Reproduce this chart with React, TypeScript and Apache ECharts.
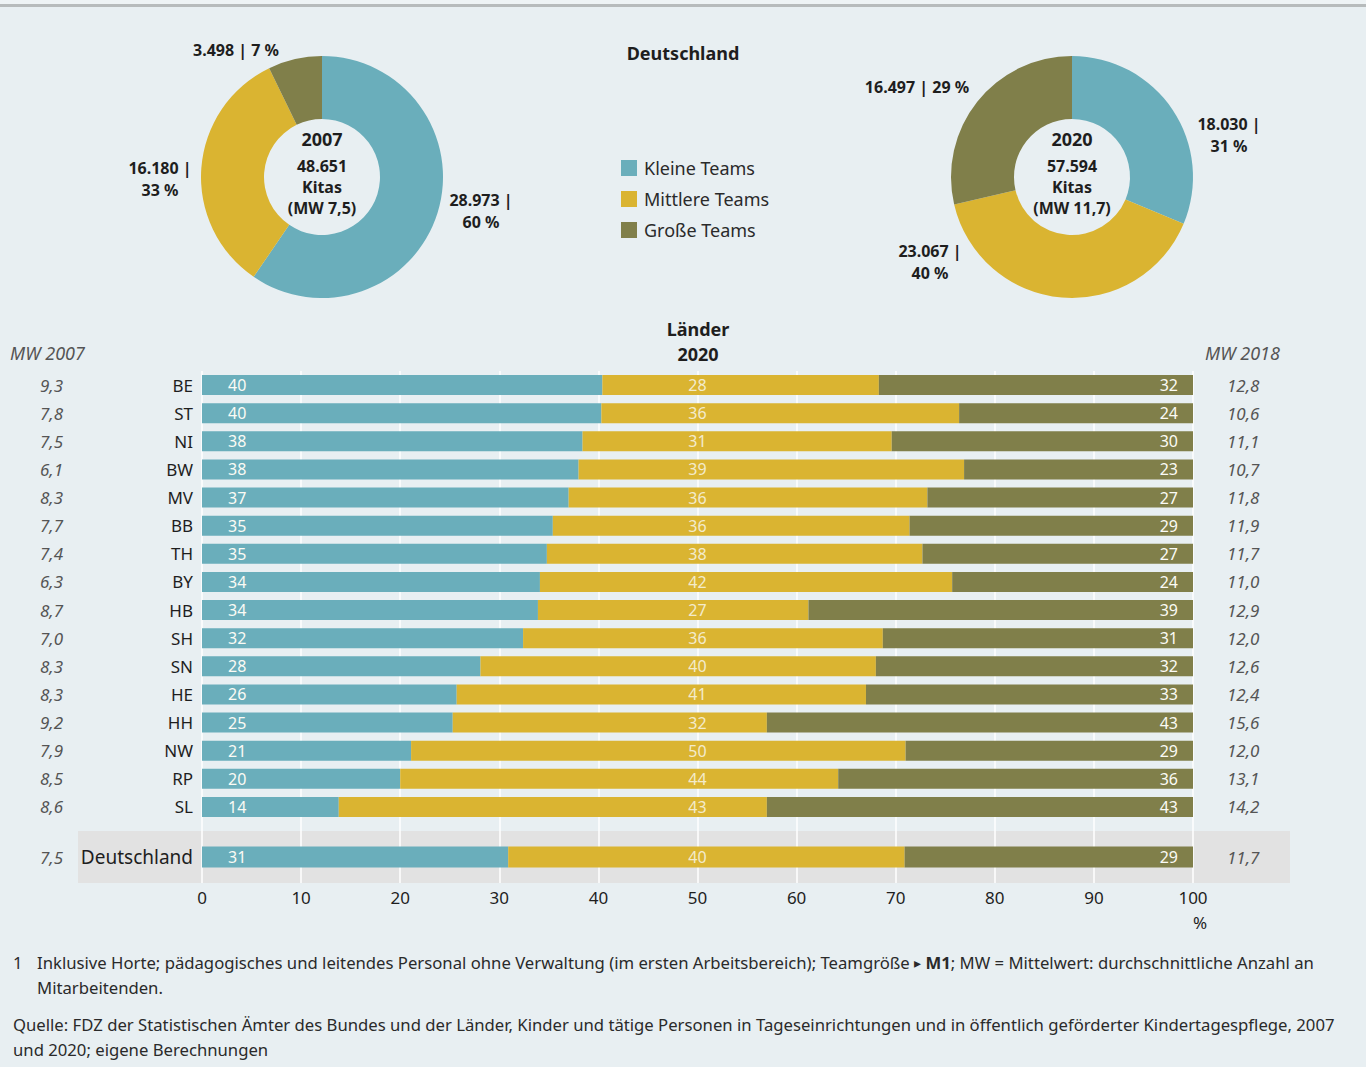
import React, { useEffect, useRef } from "react";
import * as echarts from "echarts";

// ---------- data ----------
const landCodes = ["BE", "ST", "NI", "BW", "MV", "BB", "TH", "BY", "HB", "SH", "SN", "HE", "HH", "NW", "RP", "SL"];
const kleine = [40.4, 40.3, 38.4, 38.0, 37.0, 35.4, 34.8, 34.1, 33.9, 32.4, 28.1, 25.7, 25.3, 21.1, 20.0, 13.8];
const mittlere = [27.9, 36.1, 31.2, 38.9, 36.2, 36.0, 37.9, 41.6, 27.3, 36.3, 39.9, 41.3, 31.7, 49.9, 44.2, 43.2];
const grosse = [31.7, 23.6, 30.4, 23.1, 26.8, 28.6, 27.3, 24.3, 38.8, 31.3, 32.0, 33.0, 43.0, 29.0, 35.8, 43.0];
const mw2007 = [9.3, 7.8, 7.5, 6.1, 8.3, 7.7, 7.4, 6.3, 8.7, 7.0, 8.3, 8.3, 9.2, 7.9, 8.5, 8.6];
const mw2018 = [12.8, 10.6, 11.1, 10.7, 11.8, 11.9, 11.7, 11.0, 12.9, 12.0, 12.6, 12.4, 15.6, 12.0, 13.1, 14.2];

const deName = ["Deutschland"];
const deKleine = [30.9];
const deMittlere = [40.0];
const deGrosse = [29.1];
const deMw2007 = [7.5];
const deMw2018 = [11.7];

const teamNames = ["Kleine Teams", "Mittlere Teams", "Große Teams"];
const kitas2007 = [28973, 16180, 3498];
const kitas2020 = [18030, 23067, 16497];
const pieYears = ["2007", "2020"];
const pieMw = [7.5, 11.7];

const xTicks = [0, 100, 10]; // min, max, interval

const footnote1 = "Inklusive Horte; pädagogisches und leitendes Personal ohne Verwaltung (im ersten Arbeitsbereich); Teamgröße {tri|▸} {b|M1}; MW = Mittelwert: durchschnittliche Anzahl an";
const footnote1b = "Mitarbeitenden.";
const source1 = "Quelle: FDZ der Statistischen Ämter des Bundes und der Länder, Kinder und tätige Personen in Tageseinrichtungen und in öffentlich geförderter Kindertagespflege, 2007";
const source2 = "und 2020; eigene Berechnungen";

// ---------- style ----------
const FONT = "Noto Sans";
const C_BLUE = "#6aaebb";
const C_YEL = "#dab431";
const C_OLV = "#807f4a";
const C_BG = "#e8eff2";
const C_TXT = "#1e1e1e";
const C_NOTE = "#2a2a2a";
const NOTE_SIZE = 16.7;
const colors = [C_BLUE, C_YEL, C_OLV];

const fmtThousand = (n: number) => String(n).replace(/\B(?=(\d{3})+(?!\d))/g, ".");
const fmtDec = (n: number) => n.toFixed(1).replace(".", ",");
const sum = (a: number[]) => a.reduce((s, v) => s + v, 0);

export default function App() {
  const ref = useRef<HTMLDivElement>(null);

  useEffect(() => {
    if (!ref.current) return;
    const chart = echarts.init(ref.current, undefined, { renderer: "svg" });

    const barLabelBase = { color: "#fbfbf5", fontSize: 16, fontFamily: FONT };

    const pieLabelPos: Record<string, { x: number; y: number }[]> = {
      p0: [
        { x: 481, y: 211 },
        { x: 160, y: 179 },
        { x: 236, y: 50 },
      ],
      p1: [
        { x: 1229, y: 135 },
        { x: 930, y: 262 },
        { x: 917, y: 87 },
      ],
    };

    const makePie = (id: string, cx: number, vals: number[]) => ({
      type: "pie",
      id,
      center: [cx, 177],
      radius: [58, 121],
      startAngle: 90,
      clockwise: true,
      silent: true,
      data: vals.map((v, i) => ({ name: teamNames[i], value: v, itemStyle: { color: colors[i] } })),
      label: {
        show: true,
        position: "outside",
        fontFamily: FONT,
        fontSize: 16,
        fontWeight: "bold",
        color: C_TXT,
        lineHeight: 22,
        align: "center",
        formatter: (p: any) => {
          const n = fmtThousand(p.value);
          const pc = Math.round(p.percent);
          return p.dataIndex === 2 ? `${n} | ${pc} %` : `${n} |\n${pc} %`;
        },
      },
      labelLine: { show: false },
      labelLayout: (params: any) => {
        const pos = pieLabelPos[id][params.dataIndex];
        return { x: pos.x, y: pos.y, align: "center", verticalAlign: "middle" };
      },
    });

    const centerText = (cx: number, k: number, vals: number[]) => [
      {
        type: "text",
        x: cx,
        y: 139,
        style: { text: pieYears[k], textAlign: "center", textVerticalAlign: "middle", fontFamily: FONT, fontSize: 18, fontWeight: "bold", fill: C_TXT },
      },
      {
        type: "text",
        x: cx,
        y: 187,
        style: {
          text: `${fmtThousand(sum(vals))}\nKitas\n(MW ${fmtDec(pieMw[k])})`,
          textAlign: "center",
          textVerticalAlign: "middle",
          fontFamily: FONT,
          fontSize: 16,
          fontWeight: "bold",
          lineHeight: 21,
          fill: C_TXT,
        },
      },
    ];

    const gridCommon = { left: 202, width: 991, outerBoundsMode: "none", containLabel: false };
    const mwLabel = { fontFamily: FONT, fontSize: 17, fontStyle: "italic", color: "#555555", margin: 0 };
    const noLine = { axisLine: { show: false }, axisTick: { show: false } };

    const noteText = (x: number, y: number, text: string, extra: any = {}) => ({
      type: "text",
      x,
      y,
      style: { text, textAlign: "left", textVerticalAlign: "middle", fontFamily: FONT, fontSize: NOTE_SIZE, fill: C_NOTE, ...extra },
    });

    const option: any = {
      animation: false,
      backgroundColor: C_BG,
      textStyle: { fontFamily: FONT },
      legend: {
        orient: "vertical",
        left: 616,
        top: 154,
        itemWidth: 16,
        itemHeight: 16,
        itemGap: 13,
        icon: "rect",
        selectedMode: false,
        data: teamNames,
        textStyle: { fontFamily: FONT, fontSize: 18, color: "#2a2a2a", padding: [0, 0, 0, 2] },
      },
      grid: [
        { ...gridCommon, top: 371, height: 512 },
        { ...gridCommon, top: 371, height: 450 },
        { ...gridCommon, top: 831, height: 52 },
      ],
      xAxis: [
        {
          gridIndex: 0,
          type: "value",
          min: xTicks[0],
          max: xTicks[1],
          interval: xTicks[2],
          ...noLine,
          splitLine: { show: true, lineStyle: { color: "#ffffff", width: 1.5 } },
          axisLabel: { fontFamily: FONT, fontSize: 17, color: C_TXT, margin: 6 },
        },
        { gridIndex: 1, type: "value", min: xTicks[0], max: xTicks[1], show: false },
        { gridIndex: 2, type: "value", min: xTicks[0], max: xTicks[1], show: false },
      ],
      yAxis: [
        { gridIndex: 0, type: "category", data: [""], show: false },
        {
          gridIndex: 1,
          type: "category",
          data: landCodes,
          inverse: true,
          ...noLine,
          axisLabel: { fontFamily: FONT, fontSize: 17, color: C_TXT, margin: 9 },
        },
        {
          gridIndex: 1,
          type: "category",
          data: landCodes,
          inverse: true,
          position: "left",
          offset: 139,
          ...noLine,
          axisLabel: { ...mwLabel, formatter: (_v: string, i: number) => fmtDec(mw2007[i]) },
        },
        {
          gridIndex: 1,
          type: "category",
          data: landCodes,
          inverse: true,
          position: "right",
          offset: 34,
          ...noLine,
          axisLabel: { ...mwLabel, formatter: (_v: string, i: number) => fmtDec(mw2018[i]) },
        },
        {
          gridIndex: 2,
          type: "category",
          data: deName,
          ...noLine,
          axisLabel: { fontFamily: FONT, fontSize: 19, color: C_TXT, margin: 9 },
        },
        {
          gridIndex: 2,
          type: "category",
          data: deName,
          position: "left",
          offset: 139,
          ...noLine,
          axisLabel: { ...mwLabel, formatter: (_v: string, i: number) => fmtDec(deMw2007[i]) },
        },
        {
          gridIndex: 2,
          type: "category",
          data: deName,
          position: "right",
          offset: 34,
          ...noLine,
          axisLabel: { ...mwLabel, formatter: (_v: string, i: number) => fmtDec(deMw2018[i]) },
        },
      ],
      series: [
        makePie("p0", 322, kitas2007),
        makePie("p1", 1072, kitas2020),
        // Länder bars
        {
          type: "bar",
          name: teamNames[0],
          xAxisIndex: 1,
          yAxisIndex: 1,
          stack: "l",
          barWidth: 20,
          data: kleine,
          itemStyle: { color: C_BLUE },
          label: { show: true, position: "insideLeft", distance: 26, ...barLabelBase, formatter: (p: any) => String(Math.round(p.value)) },
        },
        {
          type: "bar",
          name: teamNames[1],
          xAxisIndex: 1,
          yAxisIndex: 1,
          stack: "l",
          barWidth: 20,
          data: mittlere,
          itemStyle: { color: C_YEL },
        },
        {
          type: "bar",
          name: teamNames[2],
          xAxisIndex: 1,
          yAxisIndex: 1,
          stack: "l",
          barWidth: 20,
          data: grosse,
          itemStyle: { color: C_OLV },
          label: { show: true, position: "insideRight", distance: 15, ...barLabelBase, formatter: (p: any) => String(Math.round(p.value)) },
        },
        {
          type: "scatter",
          xAxisIndex: 1,
          yAxisIndex: 1,
          symbolSize: 0,
          silent: true,
          data: mittlere.map((_v, i) => [50, i]),
          label: { show: true, position: "inside", ...barLabelBase, formatter: (p: any) => String(Math.round(mittlere[p.dataIndex])) },
        },
        // Deutschland bars
        {
          type: "bar",
          name: teamNames[0],
          xAxisIndex: 2,
          yAxisIndex: 4,
          stack: "d",
          barWidth: 21,
          data: deKleine,
          itemStyle: { color: C_BLUE },
          label: { show: true, position: "insideLeft", distance: 26, ...barLabelBase, formatter: (p: any) => String(Math.round(p.value)) },
        },
        {
          type: "bar",
          name: teamNames[1],
          xAxisIndex: 2,
          yAxisIndex: 4,
          stack: "d",
          barWidth: 21,
          data: deMittlere,
          itemStyle: { color: C_YEL },
        },
        {
          type: "bar",
          name: teamNames[2],
          xAxisIndex: 2,
          yAxisIndex: 4,
          stack: "d",
          barWidth: 21,
          data: deGrosse,
          itemStyle: { color: C_OLV },
          label: { show: true, position: "insideRight", distance: 15, ...barLabelBase, formatter: (p: any) => String(Math.round(p.value)) },
        },
        {
          type: "scatter",
          xAxisIndex: 2,
          yAxisIndex: 4,
          symbolSize: 0,
          silent: true,
          data: deMittlere.map((_v, i) => [50, i]),
          label: { show: true, position: "inside", ...barLabelBase, formatter: (p: any) => String(Math.round(deMittlere[p.dataIndex])) },
        },
      ],
      graphic: [
        { type: "rect", z: -5, shape: { x: 0, y: 0, width: 1366, height: 4 }, style: { fill: "#eef3f5" } },
        { type: "rect", z: -5, shape: { x: 0, y: 4, width: 1366, height: 3 }, style: { fill: "#b7bbbc" } },
        { type: "rect", z: -5, shape: { x: 78, y: 831, width: 1212, height: 52 }, style: { fill: "#e2e2e2" } },
        ...centerText(322, 0, kitas2007),
        ...centerText(1072, 1, kitas2020),
        {
          type: "text",
          x: 683,
          y: 53,
          style: { text: "Deutschland", textAlign: "center", textVerticalAlign: "middle", fontFamily: FONT, fontSize: 18, fontWeight: "bold", fill: C_TXT },
        },
        {
          type: "text",
          x: 698,
          y: 341,
          style: { text: "Länder\n2020", textAlign: "center", textVerticalAlign: "middle", fontFamily: FONT, fontSize: 18, fontWeight: "bold", lineHeight: 25, fill: C_TXT },
        },
        {
          type: "text",
          x: 10,
          y: 353,
          style: { text: "MW 2007", textAlign: "left", textVerticalAlign: "middle", fontFamily: FONT, fontSize: 18, fontStyle: "italic", fill: "#555555" },
        },
        {
          type: "text",
          x: 1205,
          y: 353,
          style: { text: "MW 2018", textAlign: "left", textVerticalAlign: "middle", fontFamily: FONT, fontSize: 18, fontStyle: "italic", fill: "#555555" },
        },
        {
          type: "text",
          x: 1200,
          y: 922,
          style: { text: "%", textAlign: "center", textVerticalAlign: "middle", fontFamily: FONT, fontSize: 17, fill: C_TXT },
        },
        noteText(13, 962, "1"),
        noteText(37, 962, footnote1, {
          rich: {
            b: { fontFamily: FONT, fontSize: NOTE_SIZE, fontWeight: "bold", fill: C_NOTE },
            tri: { fontFamily: FONT, fontSize: 14, fill: C_NOTE },
          },
        }),
        noteText(37, 987, footnote1b),
        noteText(13, 1024, source1),
        noteText(13, 1049, source2),
      ],
    };

    chart.setOption(option);
    return () => chart.dispose();
  }, []);

  return (
    <div
      ref={ref}
      style={{ position: "absolute", left: 0, top: 0, width: 1366, height: 1067 }}
    />
  );
}
